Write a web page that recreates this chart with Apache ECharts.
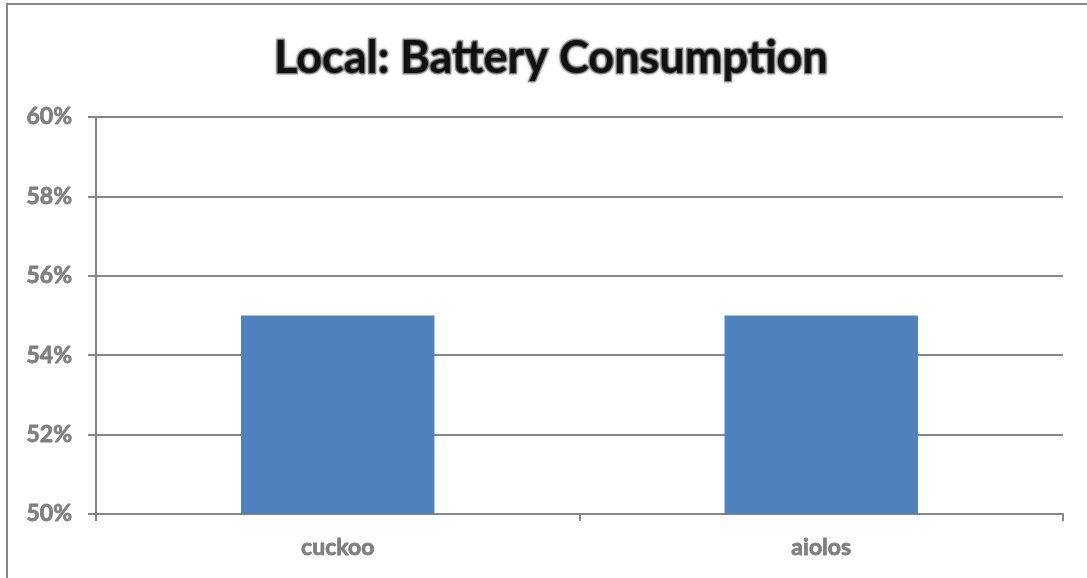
<!DOCTYPE html>
<html>
<head>
<meta charset="utf-8">
<script src="https://cdn.jsdelivr.net/npm/echarts@6/dist/echarts.min.js"></script>
<style>
  html, body { margin: 0; padding: 0; background: #fff; }
  #chart { width: 1087px; height: 578px; }
</style>
</head>
<body>
<div id="chart"></div>
<script>
// chart data
const titleText = "Local: Battery Consumption";
const categories = ["cuckoo", "aiolos"];
const consumption = [55, 55];
const yMin = 50;
const yMax = 60;
const yStep = 2;

const labelStyle = {
  fontFamily: "Lato",
  fontWeight: "bold",
  fontSize: 23,
  color: "#7f7f7f",
  textBorderColor: "#7f7f7f",
  textBorderWidth: 0.8
};

const chart = echarts.init(document.getElementById("chart"));
chart.setOption({
  animation: false,
  backgroundColor: "#fff",
  title: {
    text: titleText,
    left: 269,
    top: 31,
    textStyle: {
      fontFamily: "Lato",
      fontWeight: "bold",
      fontSize: 45,
      color: "#111",
      textBorderColor: "#8a8a8a",
      textBorderWidth: 2.5,
      textShadowColor: "rgba(0,0,0,0.3)",
      textShadowBlur: 3
    }
  },
  graphic: [
    {
      type: "rect",
      shape: { x: 7, y: 4, width: 1200, height: 700 },
      style: { fill: "none", stroke: "#868686", lineWidth: 2 },
      silent: true
    }
  ],
  grid: {
    left: 96,
    right: 24,
    top: 117,
    bottom: 64
  },
  xAxis: {
    type: "category",
    data: categories,
    axisLine: { lineStyle: { color: "#868686", width: 2 } },
    axisTick: { show: true, length: 7, lineStyle: { color: "#868686", width: 2 } },
    axisLabel: Object.assign({ margin: 22 }, labelStyle)
  },
  yAxis: {
    type: "value",
    min: yMin,
    max: yMax,
    interval: yStep,
    axisLine: { show: true, lineStyle: { color: "#868686", width: 2 } },
    axisTick: { show: true, length: 8, lineStyle: { color: "#868686", width: 2 } },
    splitLine: { lineStyle: { color: "#868686", width: 2 } },
    axisLabel: Object.assign({ margin: 24, formatter: v => v + "%" }, labelStyle)
  },
  series: [
    {
      type: "bar",
      data: consumption,
      barWidth: "40%",
      itemStyle: { color: "#4f81bd" }
    }
  ]
});
</script>
</body>
</html>
